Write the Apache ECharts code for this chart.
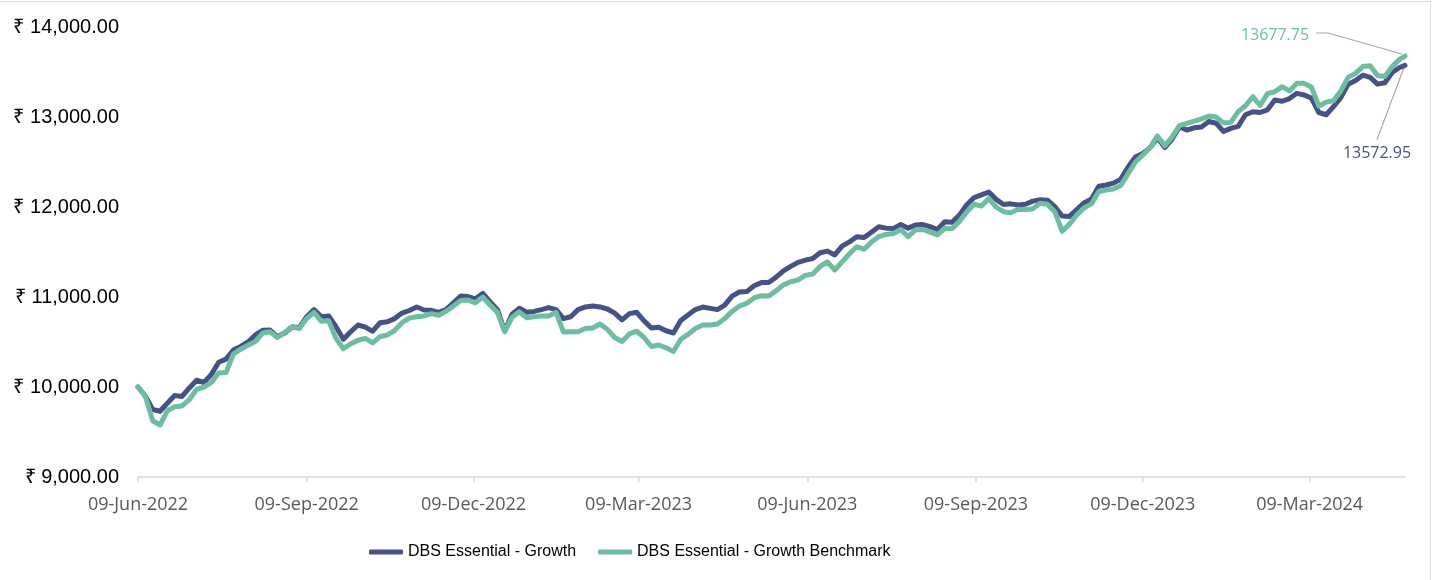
<!DOCTYPE html>
<html>
<head>
<meta charset="utf-8">
<script src="https://cdn.jsdelivr.net/npm/echarts@6/dist/echarts.min.js"></script>
<style>
html,body{margin:0;padding:0;background:#fff;}
#c{position:absolute;left:0;top:0;width:1438px;height:580px;}
#frame{position:absolute;left:0;top:1px;width:1431px;height:579px;border-top:1px solid #d9d9d9;border-right:1px solid #d9d9d9;box-sizing:border-box;pointer-events:none;}
</style>
</head>
<body>
<div id="c"></div>
<div id="frame"></div>
<script>
// ---------------- DATA ----------------
const startDate = '2022-06-09';
const endDate = '2024-04-30';
const seriesNames = ['DBS Essential - Growth', 'DBS Essential - Growth Benchmark'];

const sampleDates = [
'2022-06-09','2022-06-13','2022-06-17','2022-06-21','2022-06-25','2022-06-29','2022-07-03','2022-07-07','2022-07-11','2022-07-15',
'2022-07-19','2022-07-23','2022-07-27','2022-07-31','2022-08-04','2022-08-08','2022-08-12','2022-08-16','2022-08-20','2022-08-24',
'2022-08-28','2022-09-01','2022-09-05','2022-09-09','2022-09-13','2022-09-17','2022-09-21','2022-09-25','2022-09-29','2022-10-03',
'2022-10-07','2022-10-11','2022-10-15','2022-10-19','2022-10-23','2022-10-27','2022-10-31','2022-11-04','2022-11-08','2022-11-12',
'2022-11-16','2022-11-20','2022-11-24','2022-11-28','2022-12-02','2022-12-06','2022-12-10','2022-12-14','2022-12-18','2022-12-22',
'2022-12-26','2022-12-30','2023-01-03','2023-01-07','2023-01-11','2023-01-15','2023-01-19','2023-01-23','2023-01-27','2023-01-31',
'2023-02-04','2023-02-08','2023-02-12','2023-02-16','2023-02-20','2023-02-24','2023-02-28','2023-03-04','2023-03-08','2023-03-12',
'2023-03-16','2023-03-20','2023-03-24','2023-03-28','2023-04-01','2023-04-05','2023-04-09','2023-04-13','2023-04-17','2023-04-21',
'2023-04-25','2023-04-29','2023-05-03','2023-05-07','2023-05-11','2023-05-15','2023-05-19','2023-05-23','2023-05-27','2023-05-31',
'2023-06-04','2023-06-08','2023-06-12','2023-06-16','2023-06-20','2023-06-24','2023-06-28','2023-07-02','2023-07-06','2023-07-10',
'2023-07-14','2023-07-18','2023-07-22','2023-07-26','2023-07-30','2023-08-03','2023-08-07','2023-08-11','2023-08-15','2023-08-19',
'2023-08-23','2023-08-27','2023-08-31','2023-09-04','2023-09-08','2023-09-12','2023-09-16','2023-09-20','2023-09-24','2023-09-28',
'2023-10-02','2023-10-06','2023-10-10','2023-10-14','2023-10-18','2023-10-22','2023-10-26','2023-10-30','2023-11-03','2023-11-07',
'2023-11-11','2023-11-15','2023-11-19','2023-11-23','2023-11-27','2023-12-01','2023-12-05','2023-12-09','2023-12-13','2023-12-17',
'2023-12-21','2023-12-25','2023-12-29','2024-01-02','2024-01-06','2024-01-10','2024-01-14','2024-01-18','2024-01-22','2024-01-26',
'2024-01-30','2024-02-03','2024-02-07','2024-02-11','2024-02-15','2024-02-19','2024-02-23','2024-02-27','2024-03-02','2024-03-06',
'2024-03-10','2024-03-14','2024-03-18','2024-03-22','2024-03-26','2024-03-30','2024-04-03','2024-04-07','2024-04-11','2024-04-15',
'2024-04-19','2024-04-23','2024-04-27','2024-04-30'
];

const growth = [
10000,9900,9750,9730,9820,9905,9895,9990,10075,10050,
10140,10275,10310,10410,10450,10500,10578,10630,10633,10560,
10600,10667,10660,10781,10860,10780,10790,10670,10530,10614,
10689,10665,10620,10714,10725,10760,10822,10850,10889,10856,
10852,10830,10860,10935,11010,11005,10980,11040,10948,10860,
10620,10810,10875,10830,10840,10860,10882,10860,10760,10780,
10860,10890,10900,10890,10867,10820,10745,10815,10830,10735,
10655,10665,10625,10600,10740,10800,10860,10888,10874,10860,
10910,11010,11055,11060,11125,11160,11160,11220,11290,11340,
11385,11410,11428,11492,11510,11467,11565,11612,11670,11660,
11720,11780,11765,11760,11805,11765,11800,11805,11781,11750,
11837,11830,11910,12025,12105,12135,12165,12085,12028,12035,
12022,12030,12065,12080,12075,12004,11900,11895,11970,12045,
12090,12230,12245,12265,12310,12445,12555,12596,12660,12770,
12660,12755,12890,12855,12880,12890,12950,12930,12840,12874,
12895,13025,13059,13050,13080,13189,13175,13205,13263,13244,
13210,13050,13025,13115,13215,13365,13405,13465,13440,13365,
13380,13495,13550,13572.95
];

const benchmark = [
10000,9900,9625,9578,9735,9781,9790,9860,9975,9998,
10050,10155,10160,10366,10420,10465,10505,10600,10614,10550,
10605,10670,10650,10760,10830,10730,10735,10540,10425,10480,
10520,10540,10490,10559,10578,10630,10715,10765,10781,10790,
10815,10798,10840,10900,10960,10967,10935,11000,10911,10830,
10614,10775,10835,10770,10780,10790,10790,10830,10612,10615,
10614,10650,10655,10700,10640,10550,10505,10590,10620,10550,
10450,10467,10435,10395,10530,10585,10650,10689,10689,10700,
10760,10840,10900,10930,10990,11015,11010,11070,11135,11170,
11190,11240,11255,11340,11390,11300,11390,11480,11559,11530,
11610,11670,11695,11705,11750,11670,11745,11750,11720,11690,
11763,11760,11840,11945,12030,12010,12095,12000,11948,11935,
11975,11970,11980,12041,12030,11948,11730,11810,11911,11990,
12035,12172,12189,12200,12240,12370,12500,12578,12660,12790,
12680,12780,12905,12930,12955,12980,13010,13000,12935,12940,
13060,13125,13225,13130,13260,13281,13337,13290,13374,13374,
13330,13120,13165,13180,13290,13440,13485,13560,13570,13460,
13450,13560,13640,13677.75
];

const yMin = 9000, yMax = 14000, yStep = 1000;
const tickMonths = ['03','06','09','12'];
const tickDay = '09';
const monthNames = ['Jan','Feb','Mar','Apr','May','Jun','Jul','Aug','Sep','Oct','Nov','Dec'];

// ---------------- BUILD ----------------
// every calendar day of the period is one category of the date axis
function buildDays(s, e) {
  const out = [];
  let t = Date.parse(s + 'T00:00:00Z');
  const end = Date.parse(e + 'T00:00:00Z');
  while (t <= end) { out.push(new Date(t).toISOString().slice(0, 10)); t += 86400000; }
  return out;
}
const days = buildDays(startDate, endDate);
function fmtDate(v) {
  return v.slice(8, 10) + '-' + monthNames[parseInt(v.slice(5, 7), 10) - 1] + '-' + v.slice(0, 4);
}
function isTick(idx, v) { return v.slice(8, 10) === tickDay && tickMonths.indexOf(v.slice(5, 7)) >= 0; }
function fmtRupee(v) {
  return '\u20B9 ' + v.toLocaleString('en-US', {minimumFractionDigits: 2, maximumFractionDigits: 2});
}

const colors = ['#45528A', '#6CBF9E'];
const annFont = {family: 'Open Sans', size: 16};
// label centre offsets from the series' last point (pixels)
const labelOffsets = [[-28, 88], [-130, -21]];

function makeSeries(k, values) {
  const last = values.length - 1;
  const data = sampleDates.map((d, i) => {
    if (i !== last) return [d, values[i]];
    return {
      value: [d, values[i]],
      label: {
        show: true,
        formatter: values[i].toFixed(2),
        color: colors[k],
        fontFamily: annFont.family,
        fontSize: annFont.size,
        align: 'center',
        verticalAlign: 'middle'
      }
    };
  });
  return {
    name: seriesNames[k],
    type: 'line',
    data: data,
    showSymbol: true,
    showAllSymbol: true,
    symbol: 'circle',
    symbolSize: 0,
    itemStyle: {color: colors[k]},
    lineStyle: {color: colors[k], width: 5, cap: 'round', join: 'round'},
    emphasis: {disabled: true},
    animation: false,
    label: {show: false},
    labelLayout: function (p) {
      if (p.dataIndex !== last) return {};
      return {x: p.rect.x + labelOffsets[k][0], y: p.rect.y + labelOffsets[k][1]};
    }
  };
}

const chart = echarts.init(document.getElementById('c'), null, {renderer: 'canvas'});
chart.setOption({
  animation: false,
  backgroundColor: 'transparent',
  grid: {left: 138, right: 33, top: 27, bottom: 103, containLabel: false},
  xAxis: {
    type: 'category',
    data: days,
    boundaryGap: false,
    axisLine: {show: true, lineStyle: {color: '#d9d9d9', width: 1.5}},
    axisTick: {show: true, interval: isTick, length: 5, lineStyle: {color: '#d9d9d9', width: 1.5}},
    axisLabel: {
      interval: isTick,
      formatter: fmtDate,
      color: '#595959',
      fontFamily: 'Open Sans',
      fontSize: 18,
      margin: 19
    },
    splitLine: {show: false}
  },
  yAxis: {
    type: 'value',
    min: yMin, max: yMax, interval: yStep,
    axisLine: {show: false},
    axisTick: {show: false},
    splitLine: {show: false},
    axisLabel: {
      formatter: fmtRupee,
      color: '#000000',
      fontFamily: 'Liberation Sans, Arial, sans-serif',
      fontSize: 20,
      margin: 19
    }
  },
  legend: {
    data: seriesNames,
    left: 364,
    top: 539,
    icon: 'roundRect',
    itemWidth: 34,
    itemHeight: 5,
    itemGap: 22,
    textStyle: {fontFamily: 'Liberation Sans, Arial, sans-serif', fontSize: 16, color: '#000000'}
  },
  series: [makeSeries(0, growth), makeSeries(1, benchmark)]
});

// leader lines from each end label to the series' last point
(function drawLeaders() {
  const ctx = document.createElement('canvas').getContext('2d');
  ctx.font = annFont.size + 'px ' + annFont.family;
  const lastIdx = sampleDates.length - 1;
  const pts = [growth, benchmark].map((vals, k) =>
    chart.convertToPixel({seriesIndex: k}, [days.indexOf(sampleDates[lastIdx]), vals[lastIdx]]));
  const w = [growth, benchmark].map(vals => ctx.measureText(vals[lastIdx].toFixed(2)).width);
  const lineStyle = {stroke: '#a6a6a6', lineWidth: 1.2, fill: null};
  const g = pts[0];
  const gcx = g[0] + labelOffsets[0][0], gcy = g[1] + labelOffsets[0][1];
  const b = pts[1];
  const bcx = b[0] + labelOffsets[1][0], bcy = b[1] + labelOffsets[1][1];
  chart.setOption({
    graphic: [
      {type: 'polyline', silent: true, z: 1,
       shape: {points: [[gcx, gcy - 14], [g[0] - 1, g[1] + 2]]}, style: lineStyle},
      {type: 'polyline', silent: true, z: 1,
       shape: {points: [[bcx + w[1] / 2 + 7, bcy - 2], [bcx + w[1] / 2 + 19, bcy - 2], [b[0] - 3, b[1] - 2]]}, style: lineStyle}
    ]
  });
})();
</script>
</body>
</html>
